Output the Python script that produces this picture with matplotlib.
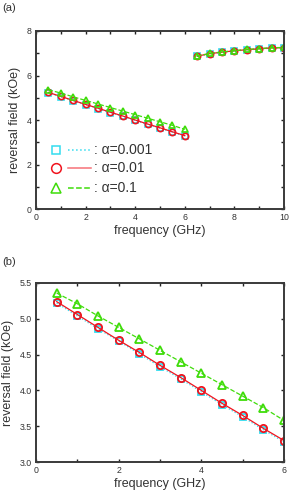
import matplotlib
matplotlib.use('Agg')
import matplotlib.pyplot as plt
from matplotlib.ticker import MultipleLocator, FormatStrFormatter

plt.rcParams['font.family'] = ['Liberation Sans', 'DejaVu Sans']

# frequency (GHz), lower branch and upper branch
freq_low = [0.5, 1.0, 1.5, 2.0, 2.5, 3.0, 3.5, 4.0, 4.5, 5.0, 5.5, 6.0]
freq_high = [6.5, 7.0, 7.5, 8.0, 8.5, 9.0, 9.5, 10.0]

# reversal field (kOe)
h_a0001_low = [5.22, 5.04, 4.86, 4.69, 4.51, 4.33, 4.16, 3.98, 3.80, 3.63, 3.45, 3.28]
h_a001_low = [5.24, 5.06, 4.88, 4.70, 4.53, 4.35, 4.18, 4.00, 3.82, 3.65, 3.47, 3.30]
h_a01_low = [5.36, 5.21, 5.04, 4.88, 4.72, 4.56, 4.40, 4.24, 4.08, 3.92, 3.76, 3.58]

h_a0001_high = [6.86, 6.97, 7.04, 7.10, 7.15, 7.19, 7.23, 7.24]
h_a001_high = [6.87, 6.98, 7.05, 7.11, 7.16, 7.20, 7.24, 7.25]
h_a01_high = [6.88, 6.99, 7.06, 7.12, 7.17, 7.21, 7.25, 7.26]

labels = [': α=0.001', ': α=0.01', ': α=0.1']

cyan = '#33dcef'
red = '#f0141e'
green = '#3fdc0a'
spine_col = '#3a3a3a'
text_col = '#333333'

# (low, high, colour, marker, linestyle, size scale)
series = [
    (h_a0001_low, h_a0001_high, cyan, 's', ':', 0.85),
    (h_a001_low, h_a001_high, red, 'o', '-', 1.0),
    (h_a01_low, h_a01_high, green, '^', '--', 1.05),
]


def style_axes(ax):
    for s in ax.spines.values():
        s.set_color(spine_col)
        s.set_linewidth(1.4)
    ax.tick_params(direction='in', which='both', top=True, right=True,
                   length=2.2, width=1, color='#222222', labelsize=6.3,
                   labelcolor=text_col, pad=3)


fig = plt.figure(figsize=(2.9, 4.93), dpi=100)

# ---- (a) ----
ax1 = fig.add_axes([36 / 290, 1 - 209 / 493, 248 / 290, 178 / 493])
for low, high, col, mk, ls, sc in series:
    for f, h in ((freq_low, low), (freq_high, high)):
        ax1.plot(f, h, color=col, ls=ls, lw=0.9)
        ax1.plot(f, h, ls='none', marker=mk, ms=4.5 * sc, mfc='none', mec=col, mew=1.2)
ax1.set_xlim(0, 10)
ax1.set_ylim(0, 8)
ax1.xaxis.set_major_locator(MultipleLocator(2))
ax1.xaxis.set_minor_locator(MultipleLocator(1))
ax1.yaxis.set_major_locator(MultipleLocator(2))
ax1.yaxis.set_minor_locator(MultipleLocator(1))
style_axes(ax1)
ax1.set_xlabel('frequency (GHz)', fontsize=9, color=text_col, labelpad=2)
ax1.set_ylabel('reversal field (kOe)', fontsize=9, color=text_col, labelpad=4)

# legend drawn by hand
leg_y = [0.33, 0.23, 0.118]
for (low, high, col, mk, ls, sc), lab, y in zip(series, labels, leg_y):
    ax1.plot([0.08], [y], transform=ax1.transAxes, marker=mk, ms=7 * sc,
             mfc='none', mec=col, mew=1.1, ls='none', clip_on=False)
    ax1.plot([0.13, 0.22], [y, y], transform=ax1.transAxes, color=col,
             ls=ls, lw=1.1, alpha=0.6 if ls == '-' else 1)
    ax1.text(0.235, y, lab, transform=ax1.transAxes, fontsize=10,
             va='center', ha='left', color=text_col)

fig.text(2 / 290, 1 - 8 / 493, '(a)', fontsize=8, va='center', ha='left', color=text_col)

# ---- (b) ----
ax2 = fig.add_axes([36 / 290, 1 - 462 / 493, 248 / 290, 179 / 493])
for low, high, col, mk, ls, sc in series:
    ax2.plot(freq_low, low, color=col, ls=ls, lw=0.9)
    ax2.plot(freq_low, low, ls='none', marker=mk, ms=5.2 * sc, mfc='none', mec=col, mew=1.3)
ax2.set_xlim(0, 6)
ax2.set_ylim(3.0, 5.5)
ax2.xaxis.set_major_locator(MultipleLocator(2))
ax2.xaxis.set_minor_locator(MultipleLocator(1))
ax2.yaxis.set_major_locator(MultipleLocator(0.5))
ax2.yaxis.set_major_formatter(FormatStrFormatter('%.1f'))
style_axes(ax2)
ax2.set_xlabel('frequency (GHz)', fontsize=9, color=text_col, labelpad=2)
ax2.set_ylabel('reversal field (kOe)', fontsize=9, color=text_col, labelpad=4)

fig.text(2 / 290, 1 - 262 / 493, '(b)', fontsize=8, va='center', ha='left', color=text_col)

fig.savefig('out.png', dpi=100)
